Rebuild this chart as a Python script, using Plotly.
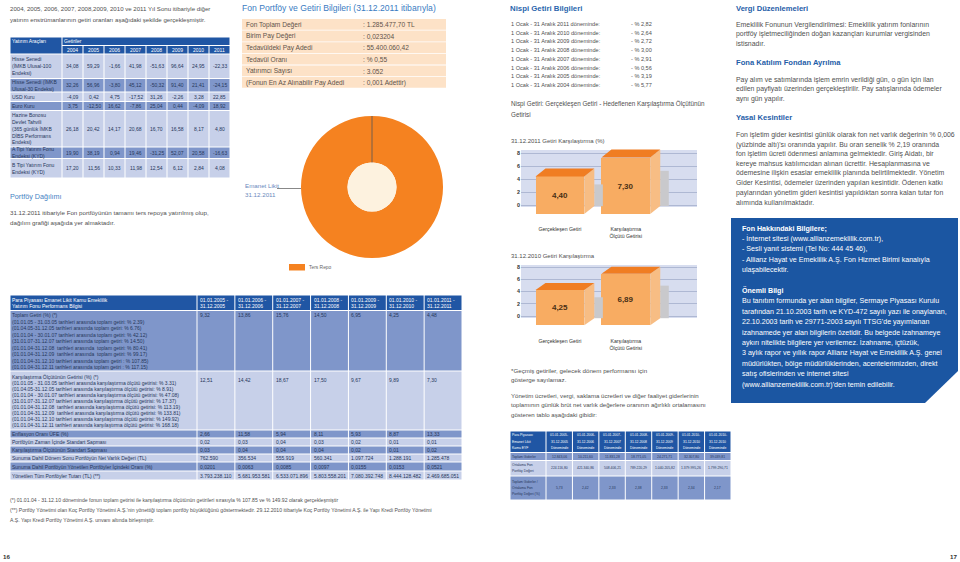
import plotly.graph_objects as go

W, H = 960, 562
FONT = "Liberation Sans"

# ======================= DATA =======================
intro_lines = [
    "2004, 2005, 2006, 2007, 2008,2009, 2010 ve 2011 Yıl Sonu itibariyle diğer",
    "yatırım enstrümanlarının getiri oranları aşağıdaki şekilde gerçekleşmiştir.",
]
t1_years = ["2004", "2005", "2006", "2007", "2008", "2009", "2010", "2011"]
t1_labels = [
    "Hisse Senedi<br>(İMKB Ulusal-100<br>Endeksi)",
    "Hisse Senedi (İMKB<br>Ulusal-30 Endeksi)",
    "USD Kuru",
    "Euro Kuru",
    "Hazine Bonosu<br>Devlet Tahvili<br>(365 günlük İMKB<br>DİBS Performans<br>Endeksi)",
    "A Tipi Yatırım Fonu<br>Endeksi (KYD)",
    "B Tipi Yatırım Fonu<br>Endeksi (KYD)",
]
hisse_100 = [34.08, 59.29, -1.66, 41.98, -51.63, 96.64, 24.95, -22.33]
hisse_30 = [32.26, 56.96, -3.80, 45.12, -50.32, 91.40, 21.41, -24.15]
usd_kuru = [-4.09, 0.42, 4.75, -17.52, 31.26, -2.26, 3.28, 22.85]
euro_kuru = [3.75, -12.50, 16.62, -7.86, 25.04, 0.44, -4.09, 18.92]
hazine = [26.18, 20.42, 14.17, 20.68, 16.70, 16.58, 8.17, 4.80]
a_tipi = [19.90, 38.19, 0.94, 19.46, -31.25, 52.07, 20.58, -16.63]
b_tipi = [17.20, 11.56, 10.33, 11.98, 12.54, 6.12, 2.84, 4.08]

portfoy_text = [
    "31.12.2011 itibariyle Fon portföyünün tamamı ters repoya yatırılmış olup,",
    "dağılım grafiği aşağıda yer almaktadır.",
]

fund_info_labels = ["Fon Toplam Değeri", "Birim Pay Değeri", "Tedavüldeki Pay Adedi",
                    "Tedavül Oranı", "Yatırımcı Sayısı", "(Fonun En Az Alınabilir Pay Adedi"]
fund_info_values = [": 1.285.477,70 TL", ": 0,023204", ": 55.400.060,42",
                    ": % 0,55", ": 3.052", ": 0,001 Adettir)"]

pie_labels = ["Ters Repo"]
pie_values = [100]

perf_periods = ["2005", "2006", "2007", "2008", "2009", "2010", "2011"]
toplam_lines = [
    "Toplam Getiri (%) (*)",
    "(01.01.05 - 31.03.05 tarihleri arasında toplam getiri: % 2.39)",
    "(01.04.05-31.12.05 tarihleri arasında toplam getiri: % 6.76)",
    "(01.01.04 - 30.01.07 tarihleri arasında toplam getiri: % 42.12)",
    "(31.01.07-31.12.07 tarihleri arasında toplam getiri: % 14.50)",
    "(01.01.04-31.12.08  tarihleri arasında  toplam getiri: % 80.41)",
    "(01.01.04-31.12.09  tarihleri arasında  toplam getiri: % 99.17)",
    "(01.01.04-31.12.10 tarihleri arasında toplam getiri : % 107.85)",
    "(01.01.04-31.12.11 tarihleri arasında toplam getiri : % 117.15)",
]
karsi_lines = [
    "Karşılaştırma Ölçütünün Getirisi (%) (*)",
    "(01.01.05 - 31.03.05 tarihleri arasında karşılaştırma ölçütü getirisi: % 3.31)",
    "(01.04.05-31.12.05 tarihleri arasında karşılaştırma ölçütü getirisi: % 8.91)",
    "(01.01.04 - 30.01.07 tarihleri arasında karşılaştırma ölçütü getirisi: % 47.08)",
    "(31.01.07-31.12.07 tarihleri arasında karşılaştırma ölçütü getirisi: % 17.37)",
    "(01.01.04-31.12.08  tarihleri arasında karşılaştırma ölçütü getirisi: % 113.19)",
    "(01.01.04-31.12.09  tarihleri arasında karşılaştırma ölçütü getirisi: % 133.81)",
    "(01.01.04-31.12.10 tarihleri arasında karşılaştırma ölçütü getirisi: % 149.92)",
    "(01.01.04-31.12.11 tarihleri arasında karşılaştırma ölçütü getirisi: % 168.18)",
]
toplam_getiri = [9.32, 13.86, 15.76, 14.50, 6.95, 4.25, 4.48]
karsi_getiri = [12.51, 14.42, 18.67, 17.50, 9.67, 9.89, 7.30]
perf_row_labels = [
    "Enflasyon Oranı ÜFE (%)",
    "Portföyün Zaman İçinde Standart Sapması",
    "Karşılaştırma Ölçütünün Standart Sapması",
    "Sunuma Dahil Dönem Sonu Portföyün Net Varlık Değeri (TL)",
    "Sunuma Dahil Portföyün Yönetilen Portföyler İçindeki Oranı (%)",
    "Yönetilen Tüm Portföyler Tutarı (TL) (**)",
]
enflasyon = [2.66, 11.58, 5.94, 8.11, 5.93, 8.87, 13.33]
std_portfoy = [0.02, 0.03, 0.04, 0.03, 0.02, 0.01, 0.01]
std_karsi = [0.03, 0.04, 0.04, 0.04, 0.02, 0.01, 0.02]
net_varlik = [762590, 356534, 555919, 560341, 1097724, 1288191, 1285478]
portfoy_oran = [0.0201, 0.0063, 0.0085, 0.0097, 0.0155, 0.0153, 0.0521]
tum_portfoy = [3793238110, 5681953581, 6533071896, 5803558201, 7080392748, 8444128482, 2469685051]

footnotes = [
    "(*) 01.01.04 - 31.12.10 döneminde fonun toplam getirisi ile karşılaştırma ölçütünün getirileri sırasıyla % 107.85 ve % 149.92 olarak gerçekleşmiştir",
    "(**) Portföy Yönetimi olan Koç Portföy Yönetimi A.Ş.'nin yönettiği toplam portföy büyüklüğünü göstermektedir. 29.12.2010 itibariyle Koç Portföy Yönetimi A.Ş. ile Yapı Kredi Portföy Yönetimi",
    "A.Ş. Yapı Kredi Portföy Yönetimi A.Ş. unvanı altında birleşmiştir.",
]

nispi_years = [2011, 2010, 2009, 2008, 2007, 2006, 2005, 2004]
nispi_values = [-2.82, -2.64, -2.72, -3.00, -2.91, -0.56, -3.19, -5.77]

bar_categories = ["Gerçekleşen Getiri", "Karşılaştırma<br>Ölçütü Getirisi"]
ret_2011 = [4.40, 7.30]
ret_2010 = [4.25, 6.89]

gider_periods = [("2005", "2005"), ("2006", "2006"), ("2007", "2007"), ("2008", "2008"),
                 ("2009", "2009"), ("2010", "2010"), ("2010", "2010")]
toplam_gider = [12843.06, 10211.60, 11831.28, 18771.05, 24271.71, 32307.80, 39039.81]
ort_portfoy = [224116.80, 421340.86, 508406.21, 789220.29, 1040205.82, 1379995.26, 1799290.71]
gider_oran = [5.73, 2.42, 2.33, 2.38, 2.33, 2.34, 2.17]

vergi_blocks = [
    ("Vergi Düzenlemeleri", [
        "Emeklilik Fonunun Vergilendirilmesi: Emeklilik yatırım fonlarının",
        "portföy işletmeciliğinden doğan kazançları kurumlar vergisinden",
        "istisnadır."]),
    ("Fona Katılım Fondan Ayrılma", [
        "Pay alım ve satımlarında işlem emrin verildiği gün, o gün için ilan",
        "edilen payfiyatı üzerinden gerçekleştirilir. Pay satışlarında ödemeler",
        "aynı gün yapılır."]),
    ("Yasal Kesintiler", [
        "Fon işletim gider kesintisi günlük olarak fon net varlık değerinin % 0,006",
        "(yüzbinde altı)'sı oranında yapılır. Bu oran senelik % 2,19 oranında",
        "fon işletim ücreti ödenmesi anlamına gelmektedir. Giriş Aidatı, bir",
        "kereye mahsus katılımcıdan alınan ücrettir. Hesaplanmasına ve",
        "ödemesine ilişkin esaslar emeklilik planında belirtilmektedir. Yönetim",
        "Gider Kesintisi, ödemeler üzerinden yapılan kesintidir. Ödenen katkı",
        "paylarından yönetim gideri kesintisi yapıldıktan sonra kalan tutar fon",
        "alımında kullanılmaktadır."]),
]
box_lines = [
    ("Fon Hakkındaki Bilgilere;", True),
    ("- İnternet sitesi (www.allianzemeklilik.com.tr),", False),
    ("- Sesli yanıt sistemi (Tel No: 444 45 46),", False),
    ("- Allianz Hayat ve Emeklilik A.Ş. Fon Hizmet Birimi kanalıyla", False),
    ("ulaşabilecektir.", False),
    ("", False),
    ("Önemli Bilgi", True),
    ("Bu tanıtım formunda yer alan bilgiler, Sermaye Piyasası Kurulu", False),
    ("tarafından 21.10.2003 tarih ve KYD-472 sayılı yazı ile onaylanan,", False),
    ("22.10.2003 tarih ve 29771-2003 sayılı TTSG'de yayımlanan", False),
    ("izahnamede yer alan bilgilerin özetidir. Bu belgede izahnameye", False),
    ("aykırı nitelikte bilgilere yer verilemez. İzahname, içtüzük,", False),
    ("3 aylık rapor ve yıllık rapor Allianz Hayat ve Emeklilik A.Ş. genel", False),
    ("müdürlükten, bölge müdürlüklerinden, acentelerimizden, direkt", False),
    ("satış ofislerinden ve internet sitesi", False),
    ("(www.allianzemeklilik.com.tr)'den temin edilebilir.", False),
]

# ======================= STYLE =======================
BODY = "#4f4f4f"
DARK = "#2056a4"
MED = "#7f96ca"
LIGHT = "#c7d0e9"
TT = "#26365a"
WHITE = "#ffffff"
ORANGE = "#f58220"
T1_FS = 5.0
TAB_FS = 5.0
GFS = 3.4


def tr(v, d):
    s = f"{v:,.{d}f}"
    return s.replace(",", "X").replace(".", ",").replace("X", ".")


annotations = []
shapes = []


def T(x, y, s, size=6.0, color=BODY, anchor="left", bold=False, xref="x", yref="y"):
    annotations.append(dict(
        x=x, y=y, xref=xref, yref=yref, text=s, showarrow=False,
        xanchor=anchor, yanchor="middle", borderpad=0, borderwidth=0,
        font=dict(family=FONT, size=size, color=color, weight="bold" if bold else "normal")))


def R(x0, y0, x1, y1, fill, layer="below", gap=0.0):
    shapes.append(dict(type="rect", xref="x", yref="y", x0=x0 + gap, y0=y0 + gap,
                       x1=x1 - gap, y1=y1 - gap, fillcolor=fill, line=dict(width=0), layer=layer))


def L(lines, x, yc, ls, size, color, anchor="left"):
    n = len(lines)
    for k, ln in enumerate(lines):
        T(x, yc + (k - (n - 1) / 2) * ls, ln, size, color, anchor)


fig = go.Figure()
fig.add_trace(go.Scatter(x=[0], y=[0], mode="markers", marker=dict(opacity=0),
                         hoverinfo="skip", showlegend=False, xaxis="x", yaxis="y"))

# ---------------- Left page: intro + table 1 ----------------
for i, ln in enumerate(intro_lines):
    T(10, 8 + i * 11, ln, 6.1)

t1_cols = [10, 62] + [62 + 21 * (i + 1) for i in range(len(t1_years))]
t1_rows = [37, 45.5, 54, 78.5, 92, 101.5, 110.5, 147, 158.5, 178]
g = 0.5
R(t1_cols[0], t1_rows[0], t1_cols[1], t1_rows[2], DARK, gap=g)
R(t1_cols[1], t1_rows[0], t1_cols[-1], t1_rows[1], DARK, gap=g)
T(12, 41.4, "Yatırım Araçları", T1_FS, WHITE)
T(64, 41.4, "Getiriler", T1_FS, WHITE)
for j, yr in enumerate(t1_years):
    R(t1_cols[j + 1], t1_rows[1], t1_cols[j + 2], t1_rows[2], DARK, gap=g)
    T((t1_cols[j + 1] + t1_cols[j + 2]) / 2, 49.9, yr, T1_FS, WHITE, "center")
t1_data = [hisse_100, hisse_30, usd_kuru, euro_kuru, hazine, a_tipi, b_tipi]
for r, (lab, vals) in enumerate(zip(t1_labels, t1_data)):
    y0, y1 = t1_rows[r + 2], t1_rows[r + 3]
    fill = LIGHT if r % 2 == 0 else MED
    yc = (y0 + y1) / 2
    R(t1_cols[0], y0, t1_cols[1], y1, fill, gap=g)
    L(lab.split("<br>"), 12, yc, 6.8, T1_FS, TT)
    for j, v in enumerate(vals):
        R(t1_cols[j + 1], y0, t1_cols[j + 2], y1, fill, gap=g)
        T((t1_cols[j + 1] + t1_cols[j + 2]) / 2, yc, tr(v, 2), T1_FS, TT, "center")

T(10, 196, "Portföy Dağılımı", 7.2, "#4683c4")
for i, ln in enumerate(portfoy_text):
    T(10, 212 + i * 10, ln, 6.2, BODY)

# ---------------- Fund info box ----------------
T(242, 8, "Fon Portföy ve Getiri Bilgileri (31.12.2011 itibarıyla)", 8.6, "#3a7cc2")
for i, (lab, val) in enumerate(zip(fund_info_labels, fund_info_values)):
    y0 = 19 + i * 11.6
    R(242, y0, 446, y0 + 10.8, "#fde2c7")
    T(246, y0 + 5.6, lab, 6.6, "#5e534b")
    T(363, y0 + 5.6, val, 6.6, "#5e534b")

# ---------------- Pie (donut) ----------------
PCX, PCY, PR = 372, 187, 71
fig.add_trace(go.Pie(
    labels=pie_labels, values=pie_values, hole=0.345, sort=False,
    marker=dict(colors=[ORANGE], line=dict(width=0)), textinfo="none",
    hoverinfo="label+percent", showlegend=False,
    domain=dict(x=[(PCX - PR) / W, (PCX + PR) / W], y=[1 - (PCY + PR) / H, 1 - (PCY - PR) / H])))
shapes.append(dict(type="circle", xref="x", yref="y", x0=PCX - 24.5, x1=PCX + 24.5,
                   y0=PCY - 24.5, y1=PCY + 24.5, fillcolor="#fdf2df", line=dict(width=0), layer="above"))
shapes.append(dict(type="line", xref="x", yref="y", x0=PCX, x1=PCX, y0=PCY - PR, y1=PCY - 24.5,
                   line=dict(color="#555555", width=0.8), layer="above"))
shapes.append(dict(type="line", xref="x", yref="y", x0=277, x1=PCX - PR, y0=188.5, y1=188.5,
                   line=dict(color="#555555", width=0.7), layer="above"))
T(245, 185, "Emanet Likit", 6.2, "#6a89bd")
T(245, 194, "31.12.2011", 6.2, "#6a89bd")
R(289, 264, 305, 270.5, ORANGE)
T(309, 267.3, pie_labels[0], 4.9, "#666666")

# ---------------- Big performance table ----------------
pc = [10, 197] + [197 + (462 - 197) / 7 * (i + 1) for i in range(7)]
pr = [295, 310.5, 371, 430, 438, 446, 454, 462, 471, 480]
R(pc[0], pr[0], pc[1], pr[1], DARK, gap=g)
T(12, 299.6, "Para Piyasası Emanet Likit Kamu Emeklilik", TAB_FS, WHITE)
T(12, 305.6, "Yatırım Fonu Performans Bilgisi", TAB_FS, WHITE)
for j, p in enumerate(perf_periods):
    R(pc[j + 1], pr[0], pc[j + 2], pr[1], DARK, gap=g)
    T(pc[j + 1] + 3, 299.6, f"01.01.{p} -", TAB_FS, WHITE)
    T(pc[j + 1] + 3, 305.6, f"31.12.{p}", TAB_FS, WHITE)
row_fills = [MED, LIGHT, MED, LIGHT, MED, LIGHT, MED, LIGHT]
multi = [(toplam_lines, toplam_getiri, 315, 6.5, 315), (karsi_lines, karsi_getiri, 377, 5.95, 380)]
for r, (lines, vals, ystart, ls, yv) in enumerate(multi):
    y0, y1 = pr[r + 1], pr[r + 2]
    R(pc[0], y0, pc[1], y1, row_fills[r], gap=g)
    for k, ln in enumerate(lines):
        T(12, ystart + k * ls, ln, TAB_FS, TT)
    for j, v in enumerate(vals):
        R(pc[j + 1], y0, pc[j + 2], y1, row_fills[r], gap=g)
        T(pc[j + 1] + 3, yv, tr(v, 2), TAB_FS, TT)
single_rows = [
    [tr(v, 2) for v in enflasyon],
    [tr(v, 2) for v in std_portfoy],
    [tr(v, 2) for v in std_karsi],
    [tr(v, 0) for v in net_varlik],
    [tr(v, 4) for v in portfoy_oran],
    [tr(v, 0) for v in tum_portfoy],
]
for r, (lab, vals) in enumerate(zip(perf_row_labels, single_rows)):
    y0, y1 = pr[r + 3], pr[r + 4]
    fill = row_fills[r + 2]
    yc = (y0 + y1) / 2
    R(pc[0], y0, pc[1], y1, fill, gap=g)
    T(12, yc, lab, TAB_FS, TT)
    for j, s in enumerate(vals):
        R(pc[j + 1], y0, pc[j + 2], y1, fill, gap=g)
        T(pc[j + 1] + 3, yc, s, TAB_FS, TT)

for i, ln in enumerate(footnotes):
    T(10, 500 + i * 10, ln, 5.1, BODY)

T(3, 556, "16", 6.2, "#333333", bold=True)
T(957, 556, "17", 6.2, "#333333", anchor="right", bold=True)

# ---------------- Right page: Nispi getiri ----------------
T(510, 8, "Nispi Getiri Bilgileri", 7.8, "#2a66ad", bold=True)
for i, (yr, v) in enumerate(zip(nispi_years, nispi_values)):
    y = 24 + i * 8.7
    T(511, y, f"1 Ocak - 31 Aralık {yr} döneminde:", 5.6, BODY)
    T(631, y, f"- % {tr(abs(v), 2)}", 5.6, BODY)
T(511, 104, "Nispi Getiri: Gerçekleşen Getiri - Hedeflenen Karşılaştırma Ölçütünün", 6.3, BODY)
T(511, 114, "Getirisi", 6.3, BODY)
T(511, 141, "31.12.2011 Getiri Karşılaştırma (%)", 6.0, BODY)
T(511, 256, "31.12.2010 Getiri Karşılaştırma", 6.0, BODY)
T(511, 370, "*Geçmiş getiriler, gelecek dönem performansı için", 6.2, BODY)
T(511, 379, "gösterge sayılamaz.", 6.2, BODY)
for i, ln in enumerate(["Yönetim ücretleri, vergi, saklama ücretleri ve diğer faaliyet giderlerinin",
                        "toplamının günlük brüt net varlık değerlere oranının ağırlıklı ortalamasını",
                        "gösteren tablo aşağıdaki gibidir:"]):
    T(511, 395 + i * 9.7, ln, 6.1, BODY)

# ---------------- 3D bar charts ----------------
XR = [-0.59, 2.08]
BAR_W = 0.74
DX = 0.152


def bar_chart(xa, ya, vals, floor, dy, bg_top, bg_bot):
    shapes.append(dict(type="rect", xref=xa, yref=ya, x0=XR[0], x1=XR[1], y0=bg_bot, y1=bg_top,
                       fillcolor="#d7ddef", line=dict(width=0), layer="below"))
    idx = list(range(len(vals)))
    for i, v in zip(idx, vals):
        xr = i + BAR_W / 2
        xl = i - BAR_W / 2
        fig.add_trace(go.Scatter(x=[xr + DX, xr + DX + 0.13, xr + DX + 0.13, xr + DX, xr + DX],
                                 y=[floor + dy, floor + dy, v * 0.72, v * 0.72, floor + dy],
                                 fill="toself", fillcolor="#c9c9cc", mode="lines", line=dict(width=0),
                                 xaxis=xa, yaxis=ya, hoverinfo="skip", showlegend=False))
        fig.add_trace(go.Scatter(x=[xr, xr, xr + DX, xr + DX, xr],
                                 y=[floor, v, v + dy, floor + dy, floor],
                                 fill="toself", fillcolor="#f7bd84", mode="lines", line=dict(width=0),
                                 xaxis=xa, yaxis=ya, hoverinfo="skip", showlegend=False))
        fig.add_trace(go.Scatter(x=[xl, xr, xr + DX, xl + DX, xl],
                                 y=[v, v, v + dy, v + dy, v],
                                 fill="toself", fillcolor="#f07d22", mode="lines", line=dict(width=0),
                                 xaxis=xa, yaxis=ya, hoverinfo="skip", showlegend=False))
    fig.add_trace(go.Bar(x=idx, y=[v - floor for v in vals], base=[floor] * len(vals), width=BAR_W,
                         marker=dict(color="#f8ac62", line=dict(width=0)),
                         text=[f"<b>{tr(v, 2)}</b>" for v in vals], textposition="inside",
                         insidetextanchor="middle", textangle=0,
                         textfont=dict(family=FONT, size=8, color="#4a3015"),
                         xaxis=xa, yaxis=ya, hoverinfo="skip", showlegend=False))


bar_chart("x2", "y2", ret_2011, -1.4, 1.23, 8.45, -0.3)
bar_chart("x3", "y3", ret_2010, -1.5, 1.14, 8.33, -0.33)


def xaxis_cfg(ydom_anchor):
    return dict(domain=[521 / W, 697 / W], range=XR, anchor=ydom_anchor, tickvals=[0, 1],
                ticktext=bar_categories, ticks="outside", ticklen=6, tickcolor="rgba(0,0,0,0)",
                showgrid=False, zeroline=False, showline=False, fixedrange=True,
                tickfont=dict(family=FONT, size=5.2, color="#333333"))


def yaxis_cfg(xanchor, top_px, bot_px, zero_px, ppu):
    return dict(domain=[1 - bot_px / H, 1 - top_px / H], anchor=xanchor,
                range=[-(bot_px - zero_px) / ppu, (zero_px - top_px) / ppu],
                tickvals=[0, 2, 4, 6, 8], showgrid=True, gridcolor="#aeb8d3", gridwidth=0.8,
                zeroline=False, showline=False, fixedrange=True,
                tickfont=dict(family=FONT, size=5.4, color="#333333", weight="bold"))


# ---------------- Gider table ----------------
gc = [510, 546] + [546 + (731 - 546) / 7 * (i + 1) for i in range(7)]
gr = [431, 452.5, 460.5, 476, 500]
R(gc[0], gr[0], gc[1], gr[1], DARK, gap=g)
L(["Para Piyasası", "Emanet Likit", "Kamu EYF"], 512, (gr[0] + gr[1]) / 2, 6.5, GFS, WHITE)
for j, (a, b) in enumerate(gider_periods):
    R(gc[j + 1], gr[0], gc[j + 2], gr[1], DARK, gap=g)
    L([f"01.01.{a}-", f"31.12.{b}", "Döneminde"], (gc[j + 1] + gc[j + 2]) / 2,
      (gr[0] + gr[1]) / 2, 6.5, GFS, WHITE, "center")
gider_rows = [
    (["Toplam Giderler"], [tr(v, 2) for v in toplam_gider], MED),
    (["Ortalama Fon", "Portföy Değeri"], [tr(v, 2) for v in ort_portfoy], LIGHT),
    (["Toplam Giderler /", "Ortalama Fon", "Portföy Değeri (%)"], [tr(v, 2) for v in gider_oran], MED),
]
for r, (labs, vals, fill) in enumerate(gider_rows):
    y0, y1 = gr[r + 1], gr[r + 2]
    yc = (y0 + y1) / 2
    R(gc[0], y0, gc[1], y1, fill, gap=g)
    L(labs, 512, yc, 6.4, GFS, TT)
    for j, s in enumerate(vals):
        R(gc[j + 1], y0, gc[j + 2], y1, fill, gap=g)
        T((gc[j + 1] + gc[j + 2]) / 2, yc, s, GFS, TT, "center")

# ---------------- Right column text ----------------
VX = 736
vy = [8, 62, 117]
vstart = [24.5, 80, 135]
vls = [9.4, 9.4, 9.6]
for (title, lines), yt, ys, ls in zip(vergi_blocks, vy, vstart, vls):
    T(VX, yt, title, 7.6, "#1f5ea8", bold=True)
    for k, ln in enumerate(lines):
        T(VX, ys + k * ls, ln, 6.9, BODY)

shapes.append(dict(type="path", xref="x", yref="y",
                   path="M 731,218 L 958,218 L 958,371 L 925,403 L 731,403 Z",
                   fillcolor="#1b56a2", line=dict(width=0), layer="below"))
for k, (ln, b) in enumerate(box_lines):
    if ln:
        T(742, 228.5 + k * 10.4, ln, 7.1, WHITE, bold=b)

# ---------------- Layout ----------------
fig.update_layout(
    width=W, height=H, margin=dict(l=0, r=0, t=0, b=0),
    paper_bgcolor="#ffffff", plot_bgcolor="rgba(0,0,0,0)",
    showlegend=False, bargap=0,
    xaxis=dict(domain=[0, 1], range=[0, W], visible=False, fixedrange=True),
    yaxis=dict(domain=[0, 1], range=[H, 0], visible=False, fixedrange=True),
    xaxis2=xaxis_cfg("y2"),
    yaxis2=yaxis_cfg("x2", 148, 218, 205, 6.5),
    xaxis3=xaxis_cfg("y3"),
    yaxis3=yaxis_cfg("x3", 262, 330, 316, 6.125),
    shapes=shapes, annotations=annotations,
)
fig.write_html("out.html", config={"displayModeBar": False},
               post_script="document.body.style.margin='0';document.body.style.padding='0';")
